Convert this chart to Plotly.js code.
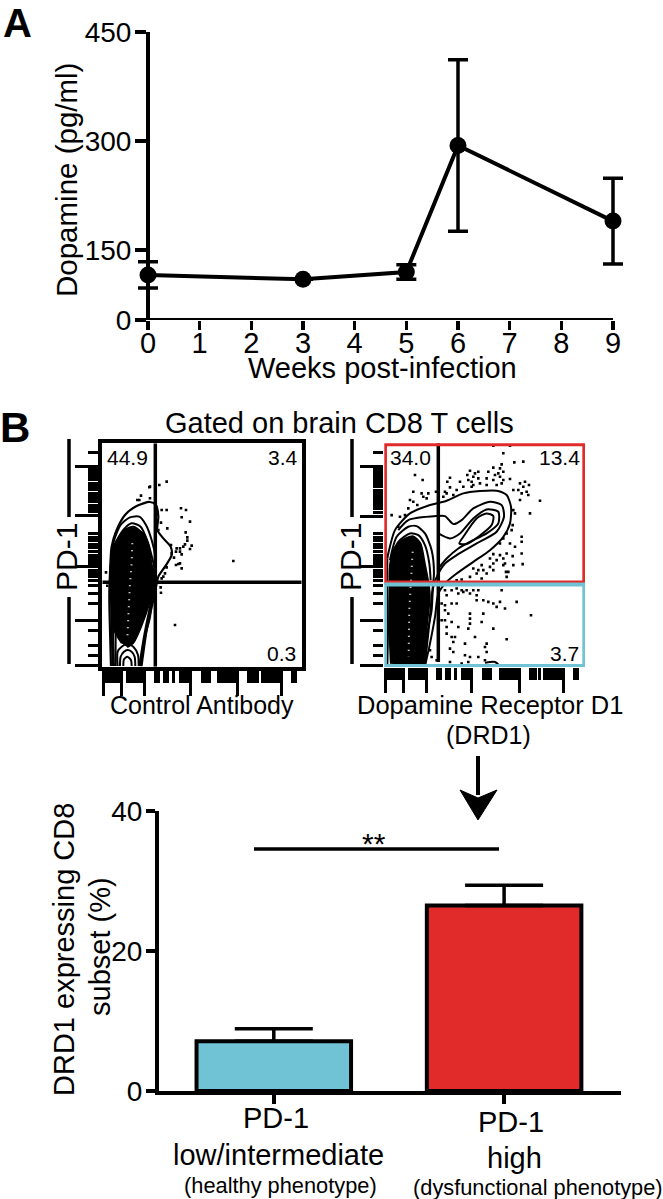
<!DOCTYPE html>
<html>
<head>
<meta charset="utf-8">
<script src="https://cdn.plot.ly/plotly-3.0.1.min.js"></script>
<style>html,body{margin:0;padding:0;background:#fff}#c{width:663px;height:1199px}</style>
</head>
<body>
<div id="c"></div>
<script>
// ---------- Panel A ----------
const weeks = [0, 3, 5, 6, 9];
const dopamine = [116, 110, 120, 294, 190];
const dopamineErrUp = [18, 0, 10, 118, 59];
const dopamineErrDown = [18, 0, 10, 118, 59];
const weekTicks = [0,1,2,3,4,5,6,7,8,9];
// the reference axis is compressed below 150: its "0" sits at 54 on the upper scale
const dopamineTickVals = [54, 150, 300, 450];
const dopamineTickText = ['0', '150', '300', '450'];

// ---------- Panel B: flow plots (coordinates in channel units) ----------
const ctrlOuterX = [183,180,178,180,185,200,225,260,300,318,325,322,340,362,365,345,325,318,305,300,285,272];
const ctrlOuterY = [708,600,500,430,350,300,255,228,216,225,260,300,325,350,375,410,440,470,510,560,620,708];
const ctrl2X = [188,185,183,190,212,240,268,288,305,316,318,312,298,282,268];
const ctrl2Y = [708,600,450,340,285,262,260,285,330,380,430,480,540,620,708];
const ctrl3X = [192,190,188,195,220,245,272,293,308,318,310,292,275];
const ctrl3Y = [708,640,450,345,300,280,290,335,390,440,510,590,708];
const ctrl4X = [197,197,205,225,250,272,288,298];
const ctrl4Y = [708,640,330,300,290,305,335,370];
const ctrlCoreX = [215,192,185,180,182,190,215,248,280,297,305,315,305,270,250,232];
const ctrlCoreY = [640,600,500,440,400,350,310,295,310,350,400,440,500,600,640,652];
const ctrlLoop1X = [203,203,215,232,250,264,266];
const ctrlLoop1Y = [708,665,650,642,650,675,708];
const ctrlLoop2X = [210,212,222,232,245,254,256];
const ctrlLoop2Y = [708,680,665,660,665,680,708];
const ctrlLoop3X = [220,222,232,243,245];
const ctrlLoop3Y = [708,688,680,690,708];
const ctrlRidgeX = [247,245,240,237,234,232];
const ctrlRidgeY = [340,400,460,520,580,625];
const ctrlDotsX = [350,328,300,298,273,300,262,268,335,350,393,408,395,333,420,352,407,325,197,412,412,405,425,400,420,363,390,380,378,390,365,395,372,550,378,390,385,395,350,345,340,168,172,332,333,375,305,300,335];
const ctrlDotsY = [155,165,170,172,197,205,210,210,240,240,235,240,262,278,275,295,307,300,312,322,332,343,347,350,357,345,355,355,365,365,370,373,383,393,405,400,402,415,412,430,440,427,467,472,488,585,490,500,445];

const drdOuterX = [172,175,195,240,300,350,400,450,500,530,543,540,520,480,430,380,350,325,315,300,285];
const drdOuterY = [385,370,300,250,225,212,190,183,182,195,230,280,320,360,395,430,455,490,560,640,708];
const drdEdgeX = [172,172,174,172];
const drdEdgeY = [385,460,600,708];
const drd2X = [205,235,320,345,370,395,430,480,515,522,500,440,380,345,325,310,305,290,280];
const drd2Y = [300,270,258,258,282,270,235,215,225,260,305,340,375,400,430,470,540,620,708];
const drd3X = [325,360,390,430,470,505,505,470,420,385,350,325];
const drd3Y = [310,325,310,265,238,245,280,310,335,355,385,415];
const drd4X = [388,400,440,470,490,485,445,410,388];
const drd4Y = [340,320,265,250,258,285,320,342,340];
const drd5X = [180,200,235,260,285,305,312,305,296,284];
const drd5Y = [390,320,290,288,310,360,430,500,600,708];
const drd6X = [185,205,240,265,285,298,302];
const drd6Y = [380,335,310,315,345,400,450];
const drdCoreX = [182,178,178,180,195,225,250,272,285,298,300,290,282,225];
const drdCoreY = [700,600,480,400,350,325,318,340,400,470,500,600,700,704];
const drdArcX = [465,480,495,505];
const drdArcY = [697,695,695,702];
const drdRidgeX = [248,245,240,238,237,236];
const drdRidgeY = [365,420,480,540,600,680];
const drdDotsX = [490,540,520,580,553,515,510,420,445,490,475,505,520,435,412,430,495,510,255,278,360,390,352,415,425,445,470,490,520,540,585,570,597,430,450,470,500,515,580,360,380,345,350,400,425,550,565,590,575,250,275,295,280,290,318,370,340,595,630,570,240,250,235,262,550,600,555,185,210,225,548,205,575,575,555,545,530,520,540,510,490,510,530,548,480,500,520,575,578,550,525,490,480,455,430,445,460,490,520,528,535,530,470,440,420,395,380,455,345,365,380,395,410,430,445,350,385,400,420,515,440,335,345,365,380,440,460,475,490,510,560,500,525,345,355,420,460,603,335,345,365,420,420,455,490,350,385,415,325,350,365,375,530,435,470,370,405,465,325,360,370,470,405,420,445,465,360,395,415,300,305,320];
const drdDotsY = [47,47,70,95,97,103,115,122,125,113,125,130,125,130,135,140,135,140,135,150,143,155,155,150,155,145,145,150,150,147,155,160,165,165,160,165,165,160,170,172,180,185,190,170,170,180,180,185,190,185,190,190,200,205,185,195,200,195,212,210,210,215,235,225,240,250,250,255,260,255,285,290,320,335,350,300,310,325,340,340,372,375,370,378,385,390,385,370,402,405,400,400,410,405,415,420,420,420,405,425,425,440,430,430,440,448,450,445,480,480,475,480,480,480,480,495,490,485,490,480,495,520,525,520,520,510,510,515,520,515,515,530,535,540,550,550,550,555,570,570,575,565,580,575,595,590,590,595,590,610,620,620,627,620,640,635,640,650,650,655,665,665,675,680,680,690,695,700,695,660,680,690];

// tick marks of the flow axes (biexponential scale)
const flowXMajor = [160,215,283,420,562,695];
const flowXMinor = [160,166,172,178,186,192,198,204,210,215,232,238,244,250,256,262,268,274,283,318,326,345,352,372,392,398,404,410,416,420,456,463,470,477,505,512,519,526,533,540,547,554,562,596,604,612,622,638,645,652,659,666,673,680,688,695,728,735];
const flowYMajor = [110,258,410,570,705];
const flowYMinor = [68,110,118,126,134,142,150,160,170,180,190,200,207,216,226,236,246,258,310,322,332,342,352,365,375,385,395,402,410,420,430,440,450,465,490,520,570,600,645,675,705];

// ---------- Panel C ----------
const subsetPos = [0, 1];
const subsetValues = [7.1, 26.5];
const subsetErr = [1.8, 2.9];
const subsetColors = ['#6fc3d4', '#e02b2a'];
const subsetTicks = [0, 20, 40];

// ---------- Layout helpers (pixels to paper fractions) ----------
const W = 663, H = 1199;
const dx = (a, b) => [a / W, b / W];
const dy = (top, bottom) => [1 - bottom / H, 1 - top / H];
const px = a => a / W;
const py = a => 1 - a / H;
const FONT = '"Liberation Sans", Arial, sans-serif';

const ln = (x, y, xa, ya, width, color) => ({type:'scatter', mode:'lines', x, y, xaxis:xa, yaxis:ya,
  line:{color:color||'#000', width:width||2, shape:'spline', smoothing:0.7}, hoverinfo:'skip', showlegend:false});
const core = (x, y, xa, ya) => ({type:'scatter', mode:'lines', x, y, xaxis:xa, yaxis:ya, fill:'toself', fillcolor:'#000',
  line:{color:'#000', width:1.5, shape:'spline', smoothing:0.7}, hoverinfo:'skip', showlegend:false});
const dots = (x, y, xa, ya) => ({type:'scatter', mode:'markers', x, y, xaxis:xa, yaxis:ya,
  marker:{symbol:'square', color:'#000', size:2.6}, hoverinfo:'skip', showlegend:false});
const ridge = (x, y, xa, ya) => ({type:'scatter', mode:'lines', x, y, xaxis:xa, yaxis:ya,
  line:{color:'#fff', width:2, dash:'1px 6px'}, hoverinfo:'skip', showlegend:false});

const data = [
  {type:'scatter', mode:'lines+markers', x:weeks, y:dopamine, xaxis:'x', yaxis:'y', cliponaxis:false,
   line:{color:'#000', width:4}, marker:{color:'#000', size:17},
   error_y:{type:'data', symmetric:false, array:dopamineErrUp, arrayminus:dopamineErrDown, color:'#000', thickness:3.5, width:10},
   showlegend:false},

  core(ctrlCoreX, ctrlCoreY, 'x2', 'y2'),
  ln(ctrlOuterX, ctrlOuterY, 'x2', 'y2', 2.2),
  ln(ctrl2X, ctrl2Y, 'x2', 'y2', 2),
  ln(ctrl3X, ctrl3Y, 'x2', 'y2', 2),
  ln(ctrl4X, ctrl4Y, 'x2', 'y2', 2),
  ln(ctrlLoop1X, ctrlLoop1Y, 'x2', 'y2', 2),
  ln(ctrlLoop2X, ctrlLoop2Y, 'x2', 'y2', 2),
  ln(ctrlLoop3X, ctrlLoop3Y, 'x2', 'y2', 2),
  ridge(ctrlRidgeX, ctrlRidgeY, 'x2', 'y2'),
  dots(ctrlDotsX, ctrlDotsY, 'x2', 'y2'),

  core(drdCoreX, drdCoreY, 'x3', 'y3'),
  ln(drdOuterX, drdOuterY, 'x3', 'y3', 2),
  ln(drdEdgeX, drdEdgeY, 'x3', 'y3', 2),
  ln(drd2X, drd2Y, 'x3', 'y3', 2),
  ln(drd3X, drd3Y, 'x3', 'y3', 2),
  ln(drd4X, drd4Y, 'x3', 'y3', 2),
  ln(drd5X, drd5Y, 'x3', 'y3', 2),
  ln(drd6X, drd6Y, 'x3', 'y3', 2),
  ln(drdArcX, drdArcY, 'x3', 'y3', 2),
  ridge(drdRidgeX, drdRidgeY, 'x3', 'y3'),
  dots(drdDotsX, drdDotsY, 'x3', 'y3'),

  {type:'bar', x:subsetPos, y:subsetValues, xaxis:'x4', yaxis:'y4', width:0.671,
   marker:{color:subsetColors, line:{color:'#000', width:4}},
   error_y:{type:'data', symmetric:false, array:subsetErr, arrayminus:[0,0], color:'#000', thickness:3.5, width:39},
   showlegend:false}
];

const flowX = (domain, range, anchor, showline) => ({domain, range, anchor, showgrid:false, zeroline:false, mirror:true,
  showline, linecolor:'#000', linewidth:4, showticklabels:false, ticks:'outside', tickmode:'array',
  tickvals:flowXMajor.map(v => v + (range[0] - 157)), ticklen:25, tickwidth:3, tickcolor:'#000',
  minor:{ticks:'outside', tickmode:'array', tickvals:flowXMinor.map(v => v + (range[0] - 157)), ticklen:12, tickwidth:3, tickcolor:'#000'}});
const flowY = (domain, range, anchor, showline) => ({domain, range, anchor, showgrid:false, zeroline:false, mirror:true,
  showline, linecolor:'#000', linewidth:4, showticklabels:false, ticks:'outside', tickmode:'array',
  tickvals:flowYMajor, ticklen:23, tickwidth:3, tickcolor:'#000',
  minor:{ticks:'outside', tickmode:'array', tickvals:flowYMinor, ticklen:10, tickwidth:3, tickcolor:'#000'}});

const text = (t, x, y, size, opts) => Object.assign({text:t, xref:'paper', yref:'paper', x:px(x), y:py(y),
  xanchor:'center', yanchor:'middle', showarrow:false, font:{family:FONT, size, color:'#000'}}, opts||{});
const seg = (x0, y0, x1, y1, w, c) => ({type:'line', xref:'paper', yref:'paper', x0:px(x0), y0:py(y0), x1:px(x1), y1:py(y1),
  line:{color:c||'#000', width:w}});

// panel A uses a padded x range so that the end error bars are not clipped; 0 falls at 148 px and 9 at 613 px
const padWeeks = 0.5;
const pxPerWeek = (613 - 148) / 9;

const layout = {
  width:W, height:H, margin:{l:0, r:0, t:0, b:0}, paper_bgcolor:'#fff', plot_bgcolor:'rgba(0,0,0,0)',
  font:{family:FONT, color:'#000'}, showlegend:false, hovermode:false,

  xaxis:{domain:dx(148 - padWeeks * pxPerWeek, 613 + padWeeks * pxPerWeek), range:[-padWeeks, 9 + padWeeks], anchor:'y',
    tickmode:'array', tickvals:weekTicks, showgrid:false, zeroline:false,
    showline:false, ticks:'outside', ticklen:9, tickwidth:3.5, tickcolor:'#000', ticklabelstandoff:-12,
    tickfont:{family:FONT, size:29, color:'#000'}},
  yaxis:{domain:dy(32,320), range:[54,450], anchor:'free', position:px(148), tickmode:'array', tickvals:dopamineTickVals, ticktext:dopamineTickText,
    showgrid:false, zeroline:false, showline:true, linecolor:'#000', linewidth:4, ticks:'outside', ticklen:11, tickwidth:3.5, tickcolor:'#000',
    ticklabelstandoff:-2, tickfont:{family:FONT, size:28, color:'#000'}},

  xaxis2:flowX(dx(102.3,301.7), [157,755], 'y2', true),
  yaxis2:flowY(dy(443.3,666.7), [710,40], 'x2', true),
  xaxis3:flowX(dx(384.3,585), [163,765], 'y3', false),
  yaxis3:flowY(dy(443.3,667), [710,40], 'x3', false),

  xaxis4:{domain:dx(159,621), range:[-0.4985,1.5076], anchor:'y4', tickmode:'array', tickvals:subsetPos, showticklabels:false,
    showgrid:false, zeroline:false, showline:true, linecolor:'#000', linewidth:4, ticks:'outside', ticklen:9, tickwidth:3.5, tickcolor:'#000'},
  yaxis4:{domain:dy(811,1091), range:[0,40], anchor:'x4', tickmode:'array', tickvals:subsetTicks, showgrid:false, zeroline:false,
    showline:true, linecolor:'#000', linewidth:4, ticks:'outside', ticklen:9, tickwidth:3.5, tickcolor:'#000',
    ticklabelstandoff:-2, tickfont:{family:FONT, size:28, color:'#000'}},

  shapes:[
    // panel A x axis line, from week 0 to week 9
    {type:'line', xref:'x', yref:'y', x0:0, x1:9, y0:54, y1:54, line:{color:'#000', width:4}, layer:'below'},
    // left gates
    {type:'line', xref:'x2', yref:'y2', x0:316, x1:316, y0:40, y1:710, line:{color:'#000', width:3.5}, layer:'above'},
    {type:'line', xref:'x2', yref:'y2', x0:157, x1:755, y0:457, y1:457, line:{color:'#000', width:3.5}, layer:'above'},
    // right gates
    {type:'line', xref:'x3', yref:'y3', x0:325, x1:325, y0:40, y1:695, line:{color:'#000', width:3.5}, layer:'above'},
    {type:'rect', xref:'x3', yref:'y3', x0:165, x1:763, y0:43, y1:457, line:{color:'#e02b2a', width:4}, layer:'above'},
    {type:'rect', xref:'x3', yref:'y3', x0:165, x1:763, y0:463, y1:707, line:{color:'#6fc3d4', width:4}, layer:'above'},
    // PD-1 brackets
    seg(69,439,69,517,3.5), seg(69,597,69,664,3.5),
    seg(352,439,352,517,3.5), seg(352,597,352,664,3.5),
    // significance line
    seg(254,849,499,849,3.5),
    // arrow from the DRD1 plot to the bars
    seg(478,756,478,795,4),
    {type:'path', xref:'paper', yref:'paper',
     path:`M${px(460)},${py(790)} L${px(478)},${py(820)} L${px(497)},${py(790)} L${px(478)},${py(798)} Z`,
     fillcolor:'#000', line:{color:'#000', width:1}}
  ],

  annotations:[
    text('<b>A</b>', 17, 23, 40),
    text('<b>B</b>', 15, 427, 42),
    text('Dopamine (pg/ml)', 66, 180, 29.5, {textangle:-90}),
    text('Weeks post-infection', 383, 368, 29),
    text('Gated on brain CD8 T cells', 340, 423, 29),
    text('44.9', 127, 457, 21), text('3.4', 300, 457, 21, {xanchor:'right'}), text('0.3', 298, 653, 21, {xanchor:'right'}),
    text('34.0', 410, 457, 21), text('13.4', 582, 457, 21, {xanchor:'right'}), text('3.7', 581, 653, 21, {xanchor:'right'}),
    text('PD-1', 66, 557, 30, {textangle:-90}),
    text('PD-1', 350, 557, 30, {textangle:-90}),
    text('Control Antibody', 202, 705, 25),
    text('Dopamine Receptor D1', 490, 705, 25.5),
    text('(DRD1)', 488, 735, 25),
    text('**', 374, 844, 30),
    text('DRD1 expressing CD8', 64, 950, 29, {textangle:-90}),
    text('subset (%)', 100, 947, 29, {textangle:-90}),
    text('PD-1', 276, 1118, 29),
    text('low/intermediate', 278, 1155, 29),
    text('(healthy phenotype)', 280, 1185, 21.8),
    text('PD-1', 511, 1122, 29),
    text('high', 514, 1158, 29),
    text('(dysfunctional phenotype)', 538, 1187, 21.8)
  ]
};

Plotly.newPlot('c', data, layout, {displayModeBar:false, staticPlot:true});
</script>
</body>
</html>
